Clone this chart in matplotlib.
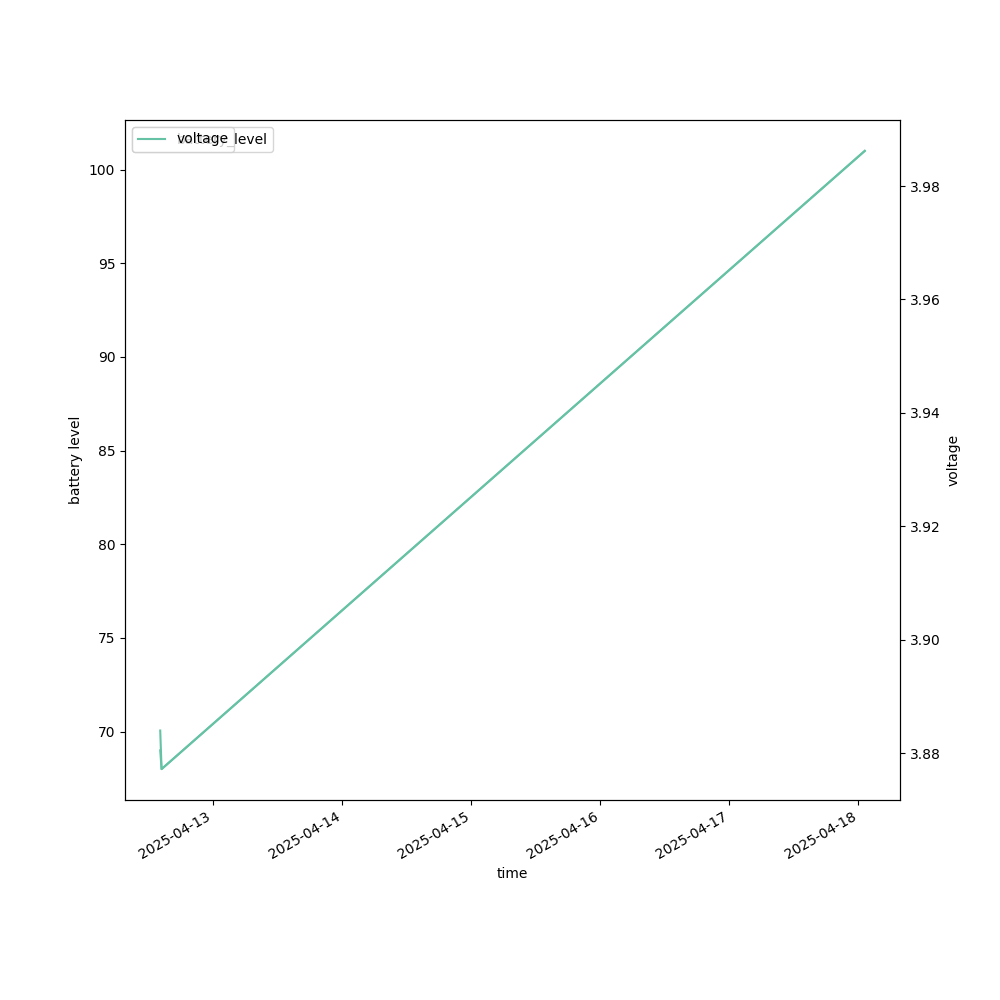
import matplotlib
matplotlib.use("Agg")
import matplotlib.pyplot as plt
import pandas as pd

# readings
times = pd.to_datetime(["2025-04-12 14:10", "2025-04-12 14:25", "2025-04-18 01:10"])
battery_level = [69, 68, 101]
voltage = [3.884, 3.8772, 3.9862]

color = "#66c2a5"

fig, ax = plt.subplots(figsize=(10, 10), dpi=100)
ax.plot(times, battery_level, color=color, label="battery_level")
ax.set_xlabel("time")
ax.set_ylabel("battery level")
ax.legend(loc="upper left")

ax2 = ax.twinx()
ax2.plot(times, voltage, color=color, label="voltage")
ax2.set_ylabel("voltage")
ax2.legend(loc="upper left")

fig.autofmt_xdate()
plt.savefig("out.png")
